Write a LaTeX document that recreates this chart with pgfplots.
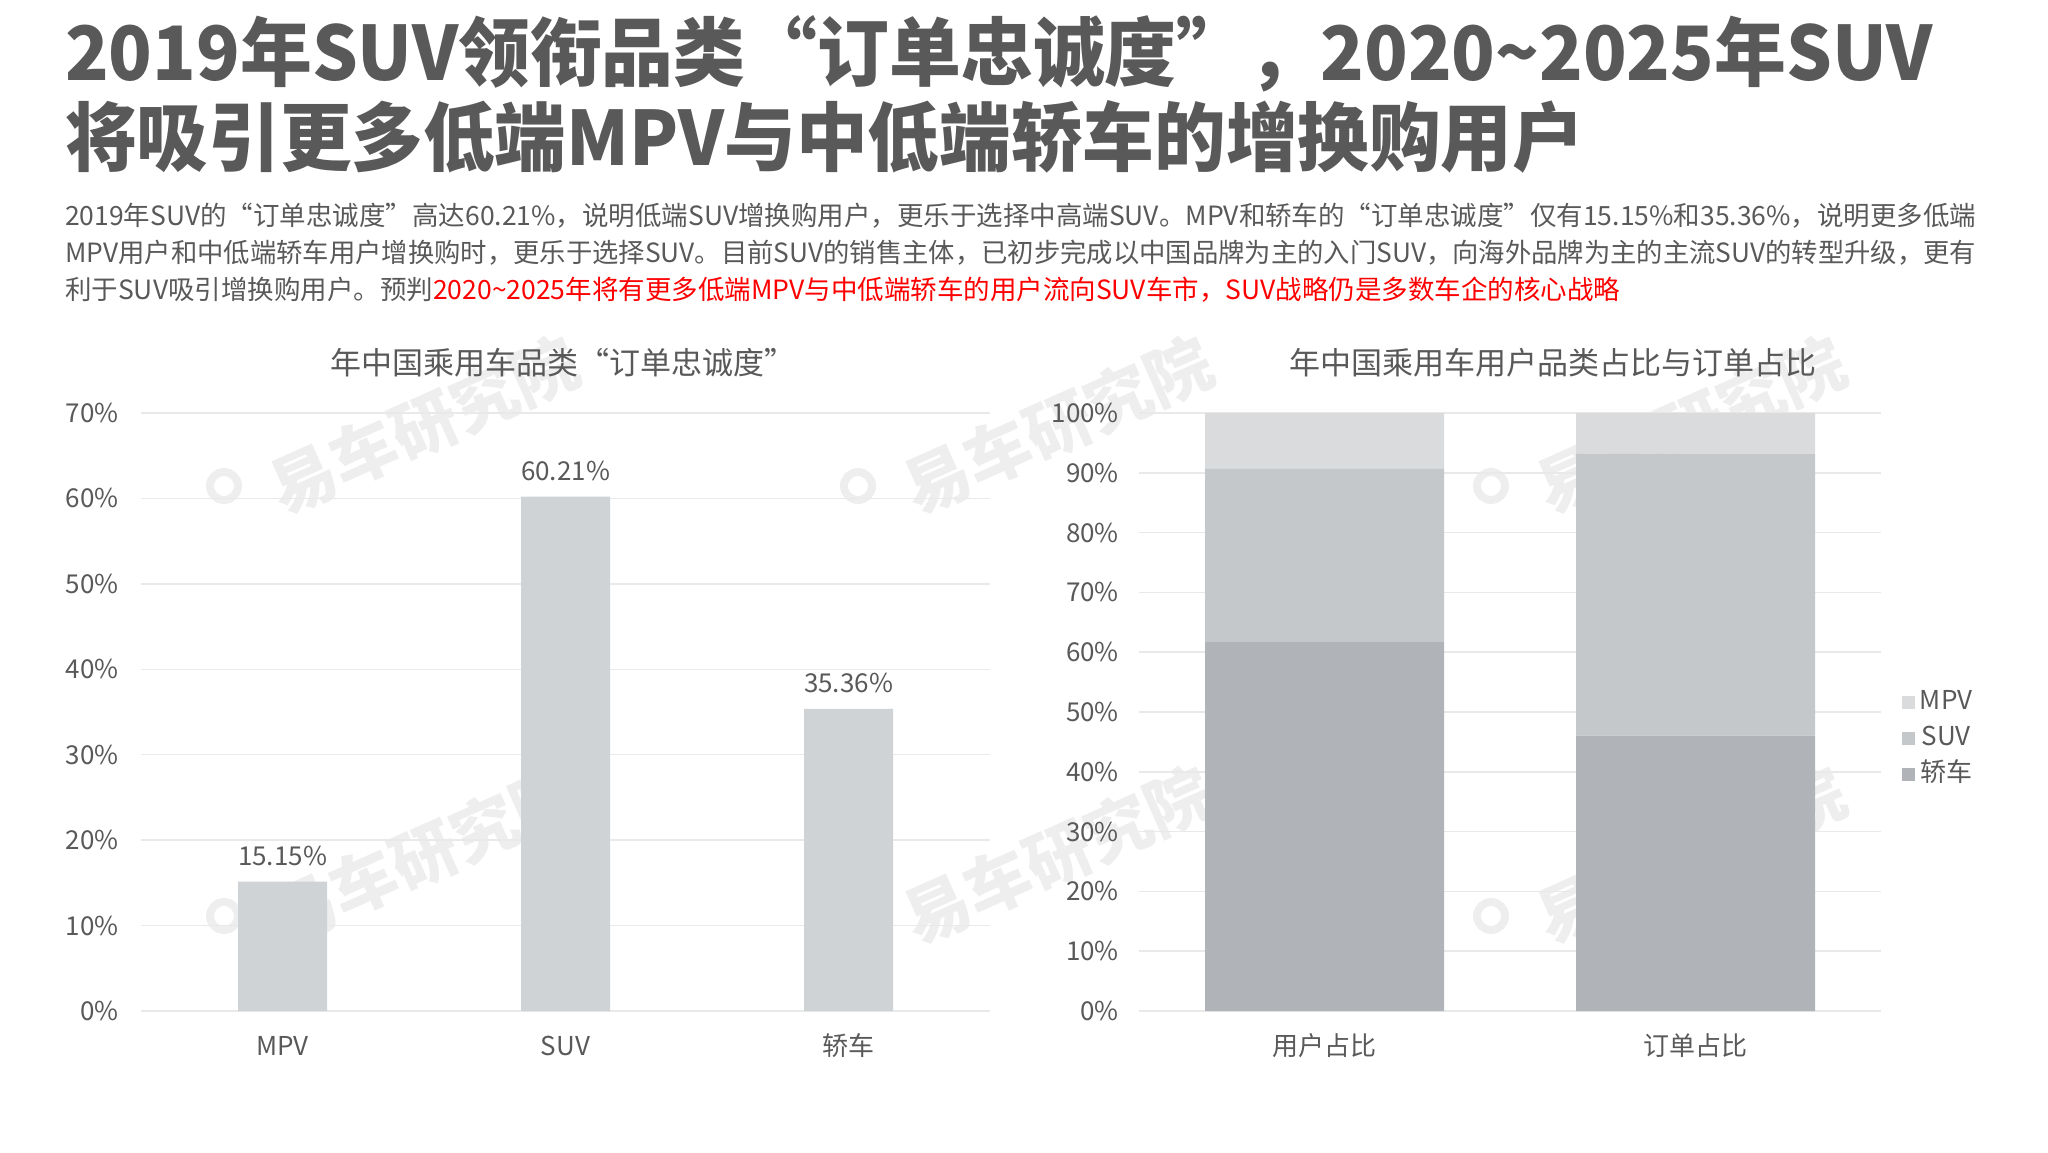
\documentclass[border=0pt]{standalone}
\usepackage{fontspec}
\setmainfont{Noto Sans CJK SC}
\usepackage{pgfplots}
\pgfplotsset{compat=1.18}
\usepackage{graphicx}
\usetikzlibrary{calc}
\definecolor{txt}{HTML}{595959}
\definecolor{gridc}{HTML}{E9E9E9}
\definecolor{barL}{HTML}{D0D3D6}
\definecolor{cMPV}{HTML}{DADBDD}
\definecolor{cSUV}{HTML}{C5C8CB}
\definecolor{cSed}{HTML}{B0B4B8}
\definecolor{wm}{HTML}{EEEEEE}
\definecolor{redt}{HTML}{FF0000}
\newcommand{\fs}[1]{\fontsize{#1}{#1}\selectfont}
\newcommand{\wmark}[2]{%
  \node[rotate=24, text=wm, font=\fs{66}\bfseries, inner sep=0] at (#1pt,#2pt) {易车研究院};
  \draw[wm, line width=8pt] ($(#1pt,#2pt)+(-200pt,-61pt)$) circle (14pt);
}
\pgfplotsset{
  mystyle/.style={
    scale only axis, anchor=south west,
    axis line style={draw=none}, tick style={draw=none}, major tick length=0pt,
    ymajorgrids, grid style={gridc, line width=1.5pt},
    ticklabel style={font=\fs{26}, text=txt, inner sep=0pt},
    xticklabel style={anchor=base, yshift=-44pt},
  }
}
\begin{document}
\begin{tikzpicture}
\path[use as bounding box] (0pt,0pt) rectangle (2048pt,1152pt);
% titles
\node[anchor=base west, inner sep=0, text=txt, font=\fs{75}\bfseries] at (65pt,1071pt) {\scalebox{0.958}[1]{2019年SUV领衔品类“订单忠诚度”，2020\textasciitilde 2025年SUV}};
\node[anchor=base west, inner sep=0, text=txt, font=\fs{75}\bfseries] at (65pt,986pt) {\scalebox{0.955}[1]{将吸引更多低端MPV与中低端轿车的增换购用户}};
% subtitle
\node[anchor=base west, inner sep=0, text=txt, font=\fs{26.5}] at (65pt,926pt) {\resizebox{1911pt}{\height}{2019年SUV的“订单忠诚度”高达60.21\%，说明低端SUV增换购用户，更乐于选择中高端SUV。MPV和轿车的“订单忠诚度”仅有15.15\%和35.36\%，说明更多低端}};
\node[anchor=base west, inner sep=0, text=txt, font=\fs{26.5}] at (65pt,889pt) {\resizebox{1911pt}{\height}{MPV用户和中低端轿车用户增换购时，更乐于选择SUV。目前SUV的销售主体，已初步完成以中国品牌为主的入门SUV，向海外品牌为主的主流SUV的转型升级，更有}};
\node[anchor=base west, inner sep=0, text=txt, font=\fs{26.5}] at (65pt,852pt) {利于SUV吸引增换购用户。预判\textcolor{redt}{2020\textasciitilde 2025年将有更多低端MPV与中低端轿车的用户流向SUV车市，SUV战略仍是多数车企的核心战略}};
% watermarks
\wmark{424}{727}
\wmark{424}{297}
\wmark{1058}{727}
\wmark{1058}{297}
\wmark{1691}{727}
\wmark{1691}{297}
% chart titles
\node[text=txt, font=\fs{31}, inner sep=0] at (563pt,789pt) {年中国乘用车品类“订单忠诚度”};
\node[text=txt, font=\fs{31}, inner sep=0] at (1553pt,789pt) {年中国乘用车用户品类占比与订单占比};
\begin{axis}[mystyle, at={(141pt,141pt)}, width=849pt, height=598pt,
  xmin=-0.5, xmax=2.5, ymin=0, ymax=70,
  ytick={0,10,...,70}, yticklabels={0\%,10\%,20\%,30\%,40\%,50\%,60\%,70\%},
  yticklabel style={anchor=east, xshift=-22pt},
  xtick={0,1,2}, xticklabels={MPV,SUV,轿车},
  ybar, bar width=89pt]
\addplot[fill=barL, draw=none, nodes near coords, point meta=explicit symbolic,
  nodes near coords style={font=\fs{26}, text=txt, anchor=base, inner sep=0pt, yshift=16pt}]
  coordinates {(0,15.15)[15.15\%] (1,60.21)[60.21\%] (2,35.36)[35.36\%]};
\end{axis}
\begin{axis}[mystyle, at={(1139pt,141pt)}, width=742pt, height=598pt,
  xmin=-0.5, xmax=1.5, ymin=0, ymax=100,
  ytick={0,10,...,100}, yticklabels={0\%,10\%,20\%,30\%,40\%,50\%,60\%,70\%,80\%,90\%,100\%},
  yticklabel style={anchor=east, xshift=-20pt},
  xtick={0,1}, xticklabels={用户占比,订单占比},
  ybar stacked, bar width=239pt,
  reverse legend,
  legend image code/.code={\fill[#1,draw=none] (0pt,-6.5pt) rectangle (13pt,6.5pt);},
  legend style={draw=none, fill=none, inner sep=0pt, at={(1.028,0.455)}, anchor=west,
    font=\fs{26}, text=txt, row sep=6pt,
    nodes={inner ysep=2pt, inner xsep=5pt, text height=20pt, text depth=6pt}}]
\addplot[fill=cSed, draw=none] coordinates {(0,61.8) (1,46.05)};
\addplot[fill=cSUV, draw=none] coordinates {(0,28.85) (1,47.15)};
\addplot[fill=cMPV, draw=none] coordinates {(0,9.35) (1,6.8)};
\legend{轿车,SUV,MPV}
\end{axis}
\end{tikzpicture}
\end{document}
